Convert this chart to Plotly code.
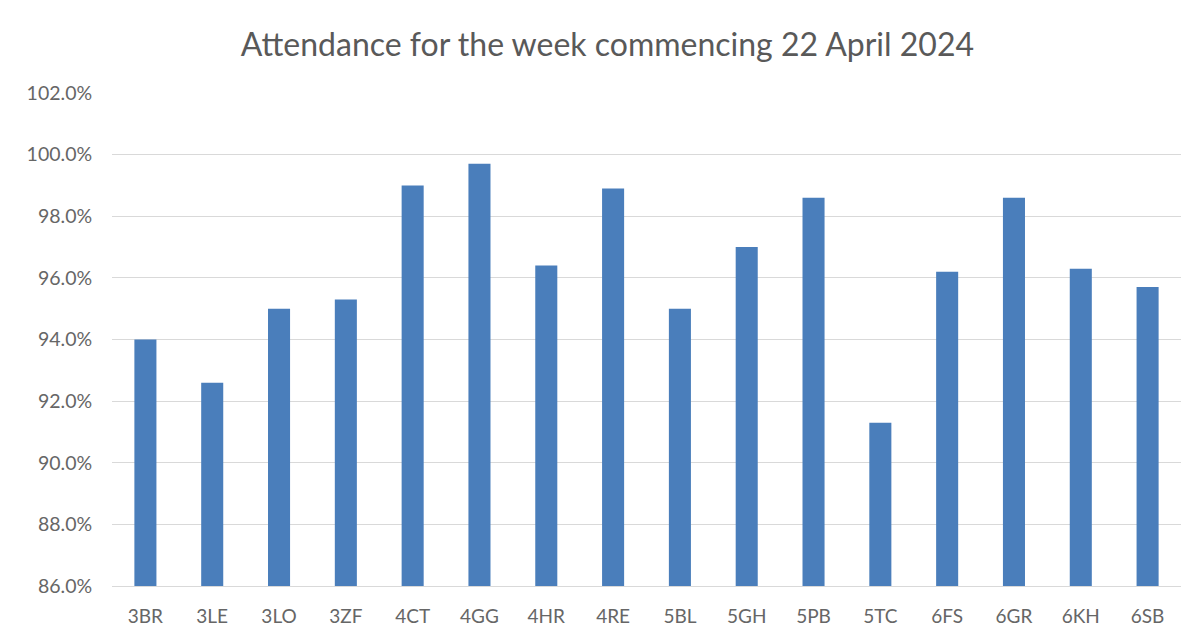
import plotly.graph_objects as go

classes = ["3BR", "3LE", "3LO", "3ZF", "4CT", "4GG", "4HR", "4RE",
           "5BL", "5GH", "5PB", "5TC", "6FS", "6GR", "6KH", "6SB"]
attendance = [94.0, 92.6, 95.0, 95.3, 99.0, 99.7, 96.4, 98.9,
              95.0, 97.0, 98.6, 91.3, 96.2, 98.6, 96.3, 95.7]
y_ticks = [86, 88, 90, 92, 94, 96, 98, 100, 102]
y_tick_text = [f"{v:.1f}%" for v in y_ticks]

fig = go.Figure(go.Bar(
    x=classes, y=attendance,
    marker=dict(color="#4A7EBB", line=dict(width=0)),
    hoverinfo="x+y",
))

fig.update_layout(
    width=1187, height=629,
    paper_bgcolor="white", plot_bgcolor="white",
    margin=dict(l=104, r=14, t=85, b=51),
    bargap=0.67,
    showlegend=False,
    font=dict(family="Lato, Open Sans, sans-serif", color="#595959"),
    title=dict(text="Attendance for the week commencing 22 April 2024",
               x=0.505, xanchor="center", y=0.941, yanchor="middle",
               font=dict(size=32, color="#595959", family="Lato, sans-serif")),
    xaxis=dict(
        showgrid=False, showline=True, linecolor="#d9d9d9", linewidth=1,
        ticks="outside", ticklen=13, tickcolor="rgba(0,0,0,0)",
        tickfont=dict(size=19, color="#666666"),
        automargin=False, fixedrange=True,
    ),
    yaxis=dict(
        range=[86, 102], tickvals=y_ticks, ticktext=y_tick_text,
        showgrid=True, gridcolor="#d9d9d9", gridwidth=1,
        zeroline=False, showline=False,
        ticks="outside", ticklen=15, tickcolor="rgba(0,0,0,0)",
        tickfont=dict(size=19.5, color="#666666"),
        automargin=False, fixedrange=True,
    ),
)

fig.write_html("out.html")
